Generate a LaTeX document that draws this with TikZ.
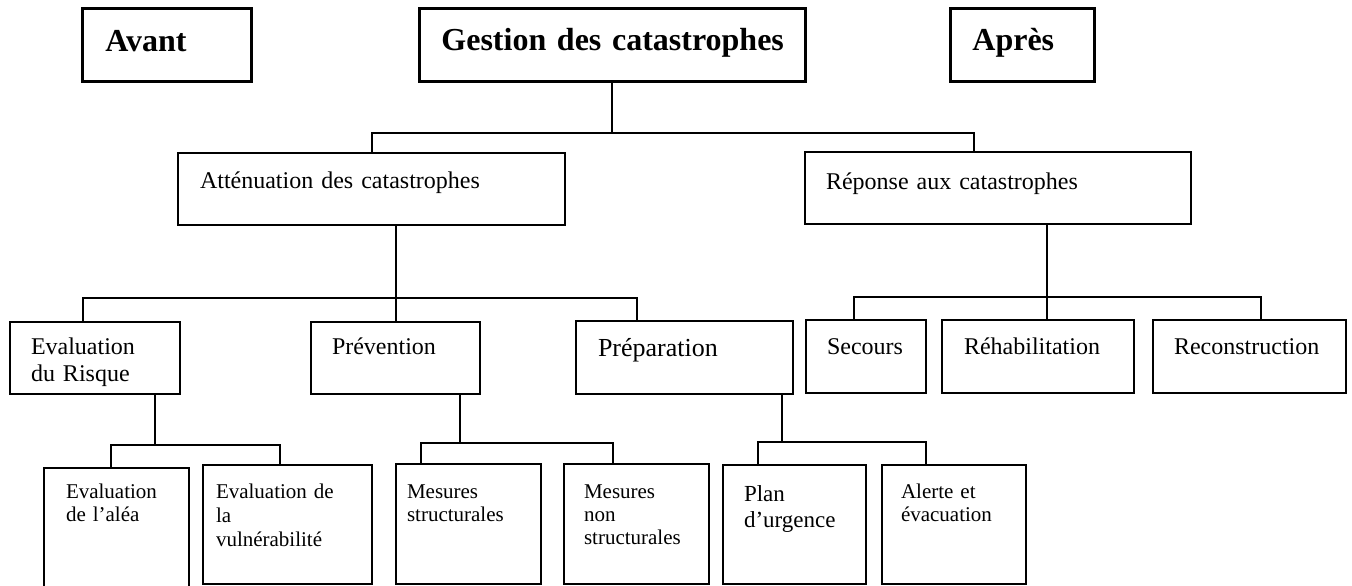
\documentclass[tikz,border=0pt]{standalone}
\usepackage{fontspec}
\setmainfont{Liberation Serif}

\begin{document}
\begin{tikzpicture}[x=1pt, y=-1pt,
      boite/.style={draw, line width=1pt, anchor=north west, inner ysep=0pt, align=left},
      dim/.style n args={4}{inner xsep=#1, text width=#2, text height=#3, text depth=#4},
      titre/.style={boite, line width=1.4pt, font=\fontsize{16}{19}\selectfont\bfseries},
      niv/.style={boite, font=\fontsize{12}{13.5}\selectfont},
      petit/.style={boite, font=\fontsize{10.5}{11.5}\selectfont},
      lien/.style={line width=1pt}]
    \useasboundingbox (0,0) rectangle (676,292.5);

    % titles
    \node[titre, dim={11.5pt}{61.5pt}{21.5pt}{15pt}] (avant) at (40.5,3.5) {Avant};
    \node[titre, dim={11pt}{171pt}{21pt}{15.5pt}] (gestion) at (209,3.5) {\mbox{Gestion des catastrophes}};
    \node[titre, dim={11pt}{50pt}{21pt}{15.5pt}] (apres) at (474.5,3.5) {Après};

    % first level
    \node[niv, dim={11pt}{171.5pt}{17.5pt}{18.5pt}] (attenuation) at (88.5,76) {Atténuation des catastrophes};
    \node[niv, dim={10.5pt}{172pt}{18.5pt}{17.5pt}] (reponse) at (402,75.5) {Réponse aux catastrophes};

    \draw[lien] (gestion.south) -- ++(0,25) coordinate (b0);
    \draw[lien] (attenuation.north) |- (b0);
    \draw[lien] ([xshift=-12pt]reponse.north) |- (b0);

    % second level
    \node[niv, dim={10.5pt}{64pt}{16pt}{20pt}] (risque) at (4.5,160.5) {Evaluation\\du Risque};
    \node[niv, dim={10.5pt}{63.5pt}{16pt}{20pt}] (prevention) at (155,160.5) {Prévention};
    \node[boite, font=\fontsize{13}{15}\selectfont, dim={11pt}{86.5pt}{17.5pt}{19pt}] (preparation) at (287.5,160) {Préparation};
    \node[niv, dim={10.5pt}{39pt}{17pt}{19.5pt}] (secours) at (402.5,159.5) {Secours};
    \node[niv, dim={11pt}{74pt}{17pt}{19.5pt}] (rehab) at (470.5,159.5) {Réhabilitation};
    \node[niv, dim={10.5pt}{75.5pt}{17pt}{19.5pt}] (recon) at (576,159.5) {Reconstruction};

    \draw[lien] ([xshift=12.25pt]attenuation.south) -- ++(0,36) coordinate (b1);
    \draw[lien] ([xshift=-6pt]risque.north) |- (b1);
    \draw[lien] (prevention.north) |- (b1);
    \draw[lien] ([xshift=-23.75pt]preparation.north) |- (b1);

    \draw[lien] ([xshift=24.5pt]reponse.south) -- ++(0,36) coordinate (b2);
    \draw[lien] ([xshift=-6pt]secours.north) |- (b2);
    \draw[lien] ([xshift=4.5pt]rehab.north) |- (b2);
    \draw[lien] ([xshift=5.75pt]recon.north) |- (b2);

    % third level
    \node[petit, dim={11pt}{50.5pt}{15pt}{46.5pt}] (alea) at (21.5,233.5) {Evaluation\\de l’aléa};
    \node[petit, dim={6.5pt}{71.5pt}{16.5pt}{43pt}, font=\fontsize{10.5}{12}\selectfont] (vuln) at (101,232) {Evaluation de\\la\\vulnérabilité};
    \node[petit, dim={5.5pt}{61.5pt}{17pt}{43pt}] (mstruct) at (197.5,231.5) {Mesures\\structurales};
    \node[petit, dim={10pt}{52.5pt}{17pt}{43pt}] (mnon) at (281.5,231.5) {Mesures\\non\\structurales};
    \node[boite, font=\fontsize{11.5}{13}\selectfont, dim={10.5pt}{50.5pt}{18pt}{41.5pt}] (plan) at (361,232) {Plan\\d’urgence};
    \node[petit, dim={9.5pt}{53pt}{16.5pt}{43pt}] (alerte) at (440.5,232) {Alerte et\\évacuation};

    \draw[lien] ([xshift=30pt]risque.south) -- ++(0,25) coordinate (b3);
    \draw[lien] ([xshift=-2.75pt]alea.north) |- (b3);
    \draw[lien] ([xshift=-3.75pt]vuln.north) |- (b3);

    \draw[lien] ([xshift=32.25pt]prevention.south) -- ++(0,24) coordinate (b4);
    \draw[lien] ([xshift=-23.75pt]mstruct.north) |- (b4);
    \draw[lien] ([xshift=-11.75pt]mnon.north) |- (b4);

    \draw[lien] ([xshift=48.75pt]preparation.south) -- ++(0,23.5) coordinate (b5);
    \draw[lien] ([xshift=-18.25pt]plan.north) |- (b5);
    \draw[lien] ([xshift=-14pt]alerte.north) |- (b5);
  \end{tikzpicture}
\end{document}
